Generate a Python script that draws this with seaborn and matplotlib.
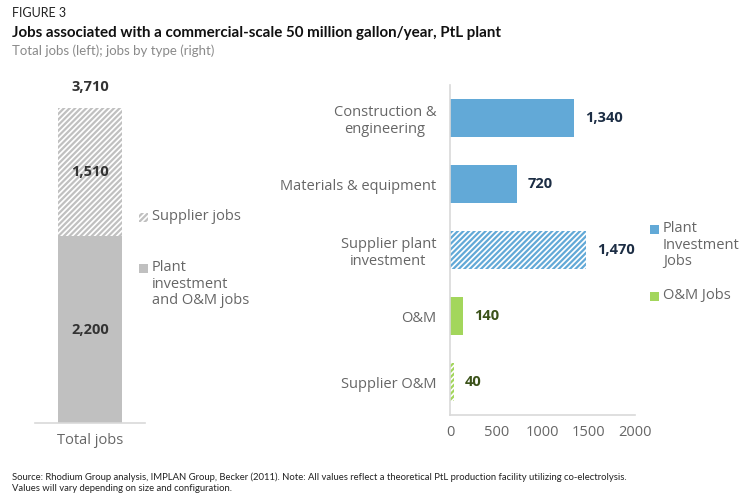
import matplotlib
matplotlib.use("Agg")
import matplotlib.pyplot as plt
import seaborn as sns
import pandas as pd
from matplotlib.patches import Rectangle

# --- data ---
total_label = "Total jobs"
plant_jobs = 2200
supplier_jobs = 1510
total_jobs = 3710

categories = ["Construction &\nengineering", "Materials & equipment",
              "Supplier plant\ninvestment", "O&M", "Supplier O&M"]
values = [1340, 720, 1470, 140, 40]
groups = ["invest", "invest", "invest", "om", "om"]
hatched = [False, False, True, False, True]
x_ticks = [0, 500, 1000, 1500, 2000]

BLUE = "#62a9d7"
GREEN = "#a3d65c"
GRAY = "#c0c0c0"
AXIS = "#d9d9d9"
TICK = "#666666"
NAVY = "#1c2d44"
OLIVE = "#3b5219"

sns.set_theme(style="white")
plt.rcParams["font.family"] = ["Open Sans", "DejaVu Sans"]
plt.rcParams["hatch.linewidth"] = 1.6

fig = plt.figure(figsize=(7.47, 5.01), dpi=100)

# ---------- left: stacked total ----------
axl = fig.add_axes([35 / 747, 1 - 423 / 501, 110 / 747, 315 / 501])
left_df = pd.DataFrame({"cat": [total_label], "total": [total_jobs], "plant": [plant_jobs]})
sns.barplot(data=left_df, x="cat", y="total", color="white", width=0.58,
            ax=axl, saturation=1)
for p in axl.patches:
    p.set_hatch("//////")
    p.set_edgecolor(GRAY)
    p.set_linewidth(0)
n_before = len(axl.patches)
sns.barplot(data=left_df, x="cat", y="plant", color=GRAY, width=0.58,
            ax=axl, saturation=1)
for p in axl.patches[n_before:]:
    p.set_linewidth(0)

axl.set_xlim(-0.5, 0.5)
axl.set_ylim(0, total_jobs)
axl.set_xlabel("")
axl.set_ylabel("")
axl.set_yticks([])
axl.tick_params(axis="x", length=0, labelsize=10.5, labelcolor=TICK, pad=7)
for s in ["top", "right", "left"]:
    axl.spines[s].set_visible(False)
axl.spines["bottom"].set_color(AXIS)
axl.spines["bottom"].set_linewidth(1.2)

axl.annotate(f"{total_jobs:,}", (0, total_jobs), xytext=(0, 15),
             textcoords="offset points", ha="center", va="center",
             fontsize=10.5, fontweight="bold", color="#333333", annotation_clip=False)
axl.text(0, plant_jobs + supplier_jobs / 2, f"{supplier_jobs:,}", ha="center",
         va="center", fontsize=10.5, fontweight="bold", color="#333333")
axl.text(0, plant_jobs / 2, f"{plant_jobs:,}", ha="center", va="center",
         fontsize=10.5, fontweight="bold", color="#333333")

# ---------- right: jobs by type ----------
axr = fig.add_axes([450 / 747, 1 - 415 / 501, 185 / 747, 330 / 501])
right_df = pd.DataFrame({"cat": categories, "val": values, "grp": groups})
sns.barplot(data=right_df, x="val", y="cat", hue="grp",
            palette={"invest": BLUE, "om": GREEN}, width=0.57, dodge=False,
            ax=axr, saturation=1, legend=False)

bars = sorted([p for p in axr.patches if p.get_height() > 0],
              key=lambda p: p.get_y())
for p, h, g, v in zip(bars, hatched, groups, values):
    col = BLUE if g == "invest" else GREEN
    p.set_linewidth(0)
    if h:
        p.set_facecolor("white")
        p.set_edgecolor(col)
        p.set_hatch("//////")
    axr.annotate(f"{v:,}", (p.get_width(), p.get_y() + p.get_height() / 2),
                 xytext=(8, 0), textcoords="offset points", ha="left",
                 va="center", fontsize=10.5, fontweight="bold",
                 color=NAVY if g == "invest" else OLIVE)

axr.set_xlim(0, 2000)
axr.set_ylim(4.5, -0.5)
axr.set_xticks(x_ticks)
axr.set_xlabel("")
axr.set_ylabel("")
axr.tick_params(axis="x", length=0, labelsize=10.5, labelcolor=TICK, pad=7)
axr.tick_params(axis="y", length=0, labelsize=10.5, labelcolor=TICK, pad=10)
for lbl in axr.get_yticklabels():
    lbl.set_multialignment("center")
for s in ["top", "right"]:
    axr.spines[s].set_visible(False)
for s in ["left", "bottom"]:
    axr.spines[s].set_color(AXIS)
    axr.spines[s].set_linewidth(1.2)

# ---------- legends ----------
def legend_item(x, y, label, face, hatch=None, edge=None):
    sq = Rectangle((x / 747, 1 - (y + 5) / 501), 9 / 747, 9 / 501,
                   transform=fig.transFigure, facecolor=face,
                   edgecolor=edge if edge else face, linewidth=0,
                   hatch=hatch)
    fig.patches.append(sq)
    fig.text((x + 13) / 747, 1 - (y - 8) / 501, label, ha="left", va="top",
             fontsize=10.5, color=TICK, linespacing=1.15)

legend_item(139, 217, "Supplier jobs", "white", hatch="//////", edge=GRAY)
legend_item(139, 268, "Plant\ninvestment\nand O&M jobs", GRAY)
legend_item(650, 229, "Plant\nInvestment\nJobs", BLUE)
legend_item(650, 296, "O&M Jobs", GREEN)

# ---------- titles ----------
fig.text(12 / 747, 1 - 13 / 501, "FIGURE 3", ha="left", va="center",
         fontsize=9, color="#222222", family=["Lato", "DejaVu Sans"])
fig.text(12 / 747, 1 - 33 / 501,
         "Jobs associated with a commercial-scale 50 million gallon/year, PtL plant",
         ha="left", va="center", fontsize=10.9, fontweight="bold", color="#111111",
         family=["Lato", "DejaVu Sans"])
fig.text(12 / 747, 1 - 51 / 501, "Total jobs (left); jobs by type (right)",
         ha="left", va="center", fontsize=9.5, color="#8a8a8a",
         family=["Lato", "DejaVu Sans"])
fig.text(12 / 747, 1 - 483 / 501,
         "Source: Rhodium Group analysis, IMPLAN Group, Becker (2011). Note: All values "
         "reflect a theoretical PtL production facility utilizing co-electrolysis.\n"
         "Values will vary depending on size and configuration.",
         ha="left", va="center", fontsize=6.8, color="#222222", linespacing=1.3,
         family=["Lato", "DejaVu Sans"])

fig.savefig("out.png", dpi=100)
